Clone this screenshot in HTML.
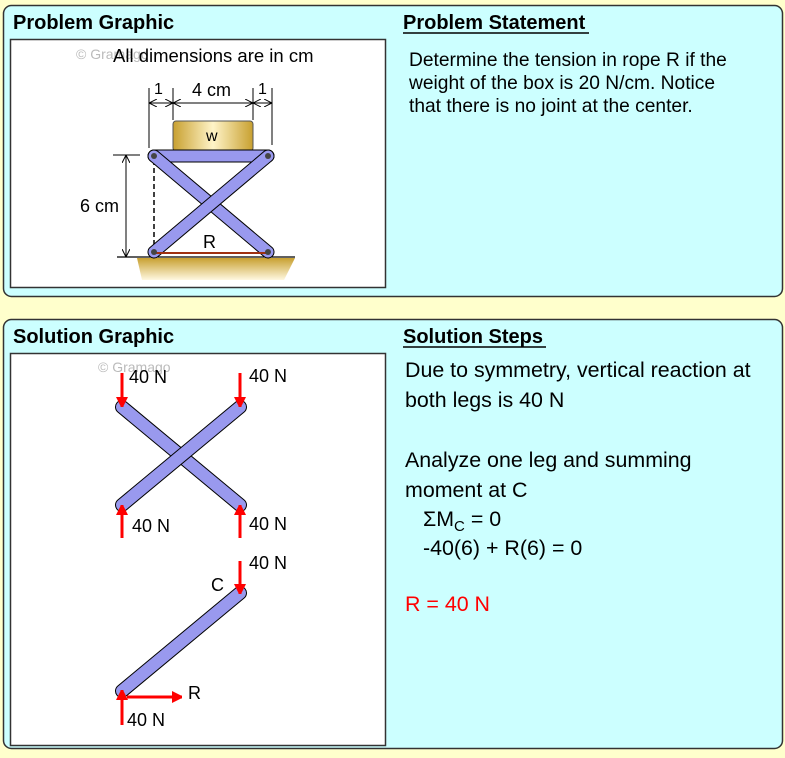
<!DOCTYPE html>
<html><head><style>
body{margin:0;background:#ffffcc;width:785px;height:753px;overflow:hidden;font-family:"Liberation Sans",Arial,sans-serif;}
</style></head><body>
<svg width="785" height="753" xmlns="http://www.w3.org/2000/svg" font-family="Liberation Sans, Arial, sans-serif">
<defs>
<linearGradient id="g" x1="0" x2="1"><stop offset="0" stop-color="#c8a030"/><stop offset="0.5" stop-color="#fff4c8"/><stop offset="1" stop-color="#c8a030"/></linearGradient>
<linearGradient id="gr" x1="0" y1="0" x2="0" y2="1"><stop offset="0" stop-color="#c8a030"/><stop offset="1" stop-color="#fff8e0"/></linearGradient>
<marker id="a" markerWidth="10" markerHeight="12" refX="10" refY="6" orient="auto" markerUnits="userSpaceOnUse"><path d="M0,0 L12,6 L0,12 z" fill="red"/></marker>
<marker id="k" markerWidth="8" markerHeight="8" refX="8" refY="4" orient="auto" markerUnits="userSpaceOnUse"><path d="M0,0 L8,4 L0,8 M8,0 L8,8" fill="none" stroke="#000" stroke-width="1"/></marker>
</defs>
<rect x="3.5" y="5.5" width="779" height="291" rx="8" fill="#ccffff" stroke="#333" stroke-width="1.5"/>
<rect x="3.5" y="319.5" width="779" height="429" rx="8" fill="#ccffff" stroke="#333" stroke-width="1.5"/>
<text x="13" y="29" font-size="20" font-weight="bold">Problem Graphic</text>
<text x="403" y="29" font-size="20" font-weight="bold">Problem Statement</text>
<line x1="403" y1="33" x2="589" y2="33" stroke="#000" stroke-width="1.5"/>
<text x="13" y="343" font-size="20" font-weight="bold">Solution Graphic</text>
<text x="403" y="343" font-size="20" font-weight="bold">Solution Steps</text>
<line x1="403" y1="347" x2="546" y2="347" stroke="#000" stroke-width="1.5"/>
<rect x="10.5" y="39.5" width="375" height="248" fill="#fff" stroke="#333" stroke-width="1.5"/>
<rect x="10.5" y="353.5" width="375" height="392" fill="#fff" stroke="#333" stroke-width="1.5"/>
<g font-size="19.2" fill="#000">
<text x="409" y="66">Determine the tension in rope R if the</text>
<text x="409" y="89">weight of the box is 20 N/cm. Notice</text>
<text x="409" y="112">that there is no joint at the center.</text>
</g>
<g font-size="21.4" fill="#000">
<text x="405" y="377">Due to symmetry, vertical reaction at</text>
<text x="405" y="407">both legs is 40 N</text>
<text x="405" y="467">Analyze one leg and summing</text>
<text x="405" y="497">moment at C</text>
<text x="423" y="526">ΣM<tspan font-size="15" dy="5">C</tspan><tspan dy="-5"> = 0</tspan></text>
<text x="423" y="555">-40(6) + R(6) = 0</text>
<text x="405" y="611" fill="red">R = 40 N</text>
</g>
<!-- problem graphic -->
<text x="76" y="59" font-size="14" fill="#bbb">© Gramago</text>
<text x="113" y="62" font-size="18.5">All dimensions are in cm</text>
<polygon points="137,258 295,258 284,280 142,280" fill="url(#gr)"/>
<line x1="117" y1="257" x2="295" y2="257" stroke="#000" stroke-width="1.2"/>
<g stroke="#000" stroke-width="1">
<line x1="149" y1="88" x2="149" y2="148"/><line x1="173" y1="88" x2="173" y2="120"/>
<line x1="253" y1="88" x2="253" y2="120"/><line x1="272" y1="88" x2="272" y2="145"/>
<line x1="161" y1="103" x2="149" y2="103" marker-end="url(#k)"/><line x1="161" y1="103" x2="173" y2="103" marker-end="url(#k)"/>
<line x1="213" y1="103" x2="173" y2="103" marker-end="url(#k)"/><line x1="213" y1="103" x2="253" y2="103" marker-end="url(#k)"/>
<line x1="262" y1="103" x2="253" y2="103" marker-end="url(#k)"/><line x1="262" y1="103" x2="272" y2="103" marker-end="url(#k)"/>
<line x1="113" y1="155" x2="140" y2="155"/>
<line x1="126" y1="205" x2="126" y2="155" marker-end="url(#k)"/><line x1="126" y1="205" x2="126" y2="257" marker-end="url(#k)"/>
<line x1="154" y1="160" x2="154" y2="252" stroke-dasharray="5,3" stroke-width="1.5"/>
</g>
<text x="154" y="94" font-size="16">1</text><text x="192" y="96" font-size="18">4 cm</text><text x="258" y="94" font-size="16">1</text>
<text x="80" y="212" font-size="18">6 cm</text>
<rect x="173" y="121" width="80" height="30" rx="3" fill="url(#g)" stroke="#555"/>
<text x="206" y="141" font-size="16">w</text>
<g stroke-linecap="round">
<line x1="154" y1="156" x2="268" y2="156" stroke="#000" stroke-width="13"/><line x1="154" y1="156" x2="268" y2="156" stroke="#9999ee" stroke-width="11"/>
<line x1="154" y1="156" x2="268" y2="252" stroke="#000" stroke-width="13"/><line x1="154" y1="156" x2="268" y2="252" stroke="#9999ee" stroke-width="11"/>
<line x1="268" y1="156" x2="154" y2="252" stroke="#000" stroke-width="13"/><line x1="268" y1="156" x2="154" y2="252" stroke="#9999ee" stroke-width="11"/>
</g>
<line x1="154" y1="253" x2="268" y2="253" stroke="#a03010" stroke-width="2"/>
<g fill="#444"><circle cx="154" cy="156" r="3"/><circle cx="268" cy="156" r="3"/><circle cx="154" cy="252" r="3"/><circle cx="268" cy="252" r="3"/></g>
<text x="203" y="248" font-size="18">R</text>
<!-- solution graphic -->
<g stroke-linecap="round">
<line x1="122" y1="407" x2="240" y2="505" stroke="#000" stroke-width="14"/><line x1="122" y1="407" x2="240" y2="505" stroke="#9999ee" stroke-width="12"/>
<line x1="240" y1="407" x2="122" y2="505" stroke="#000" stroke-width="14"/><line x1="240" y1="407" x2="122" y2="505" stroke="#9999ee" stroke-width="12"/>
<line x1="240" y1="593" x2="122" y2="691" stroke="#000" stroke-width="14"/><line x1="240" y1="593" x2="122" y2="691" stroke="#9999ee" stroke-width="12"/>
</g>
<text x="98" y="372" font-size="14" fill="#bbb">© Gramago</text>
<g stroke="red" stroke-width="3">
<line x1="122" y1="373" x2="122" y2="407" marker-end="url(#a)"/>
<line x1="240" y1="373" x2="240" y2="407" marker-end="url(#a)"/>
<line x1="122" y1="538" x2="122" y2="505" marker-end="url(#a)"/>
<line x1="240" y1="538" x2="240" y2="505" marker-end="url(#a)"/>
<line x1="240" y1="561" x2="240" y2="594" marker-end="url(#a)"/>
<line x1="122" y1="725" x2="122" y2="690" marker-end="url(#a)"/>
<line x1="127" y1="697" x2="182" y2="697" marker-end="url(#a)"/>
</g>
<g font-size="18">
<text x="129" y="383">40 N</text><text x="249" y="382">40 N</text>
<text x="132" y="532">40 N</text><text x="249" y="530">40 N</text>
<text x="249" y="569">40 N</text><text x="211" y="591">C</text>
<text x="188" y="699">R</text><text x="127" y="726">40 N</text>
</g>
</svg>
</body></html>
